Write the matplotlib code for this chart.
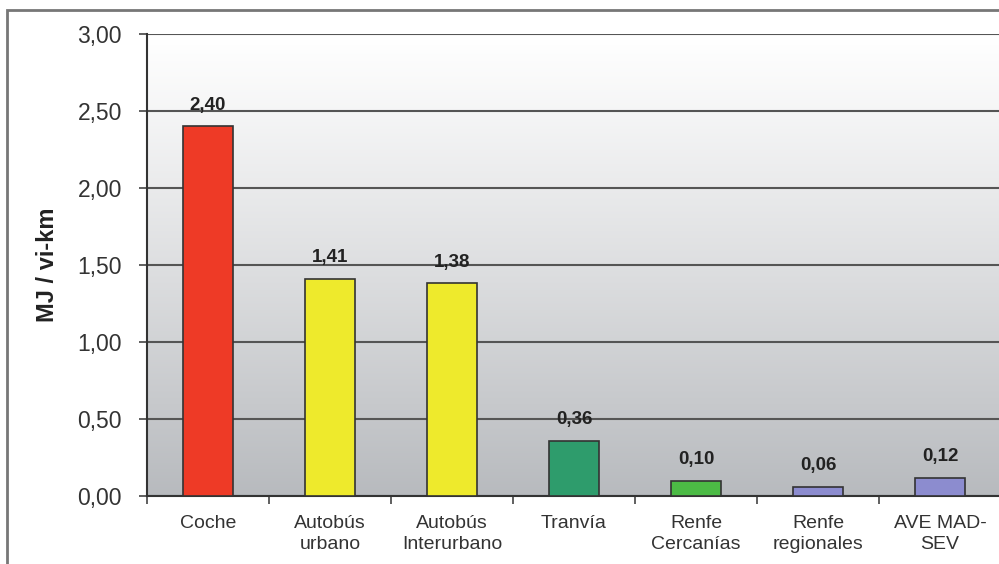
import numpy as np
import matplotlib
matplotlib.use("Agg")
import matplotlib.pyplot as plt
from matplotlib.patches import Rectangle

plt.rcParams['font.family'] = ['Liberation Sans', 'DejaVu Sans']

categorias = ["Coche", "Autobús\nurbano", "Autobús\nInterurbano", "Tranvía",
              "Renfe\nCercanías", "Renfe\nregionales", "AVE MAD-\nSEV"]
valores = [2.40, 1.41, 1.38, 0.36, 0.10, 0.06, 0.12]
etiquetas = ["2,40", "1,41", "1,38", "0,36", "0,10", "0,06", "0,12"]
colores = ["#ee3a26", "#eeea2c", "#eeea2c", "#2e9c6c", "#4cbb45", "#8c8ccf", "#8c8ccf"]
yticks = [0.0, 0.5, 1.0, 1.5, 2.0, 2.5, 3.0]
ytick_labels = ["0,00", "0,50", "1,00", "1,50", "2,00", "2,50", "3,00"]

fig = plt.figure(figsize=(9.99, 5.64), dpi=100)
fig.patch.set_facecolor("white")

# marco exterior
fig.add_artist(Rectangle((7 / 999, -0.05), 1.1, 1 - 10 / 564 + 0.05,
                         transform=fig.transFigure, fill=False,
                         edgecolor="#777777", lw=2))

ax = fig.add_axes([147 / 999, 1 - 496 / 564, 854 / 999, 462 / 564])

# fondo degradado
grad = np.linspace(0, 1, 256).reshape(-1, 1)
top = np.array([1.0, 1.0, 1.0])
bot = np.array([0.72, 0.73, 0.745])
img = top + (bot - top) * grad[..., None] ** 1.1
ax.imshow(img, extent=[0, 1, 0, 1], transform=ax.transAxes, aspect="auto", zorder=0)

x = np.arange(len(categorias))
ax.bar(x, valores, width=0.41, color=colores, edgecolor="#333333", linewidth=1.2, zorder=3)

for xi, v, t in zip(x, valores, etiquetas):
    ax.annotate(t, (xi, v), xytext=(0, 12), textcoords="offset points",
                ha="center", va="baseline", fontsize=13.5, fontweight="bold",
                color="#222222", zorder=5)

ax.set_xlim(-0.5, len(categorias) - 0.5)
ax.set_ylim(0, 3)
ax.set_yticks(yticks)
ax.set_yticklabels(ytick_labels, fontsize=16.5, color="#333333")
ax.yaxis.grid(True, color="#555555", lw=1.5, zorder=1)
ax.set_axisbelow(True)

ax.set_xticks(x)
ax.set_xticklabels(categorias, fontsize=14, color="#333333", linespacing=1.25)
ax.set_xticks(np.arange(-0.5, len(categorias), 1), minor=True)
ax.tick_params(axis="x", which="major", length=0, pad=14)
ax.tick_params(axis="x", which="minor", length=6, width=1.2, color="#444444", direction="out")
ax.tick_params(axis="y", length=6, width=1.2, color="#444444", pad=12)

for s in ["top", "right"]:
    ax.spines[s].set_visible(False)
ax.spines["left"].set_color("#333333")
ax.spines["left"].set_linewidth(1.5)
ax.spines["bottom"].set_color("#333333")
ax.spines["bottom"].set_linewidth(1.5)

fig.text(47 / 999, 1 - 265 / 564, "MJ / vi-km", rotation=90, ha="center", va="center",
         fontsize=17, fontweight="bold", color="#222222")

fig.savefig("out.png", dpi=100)
